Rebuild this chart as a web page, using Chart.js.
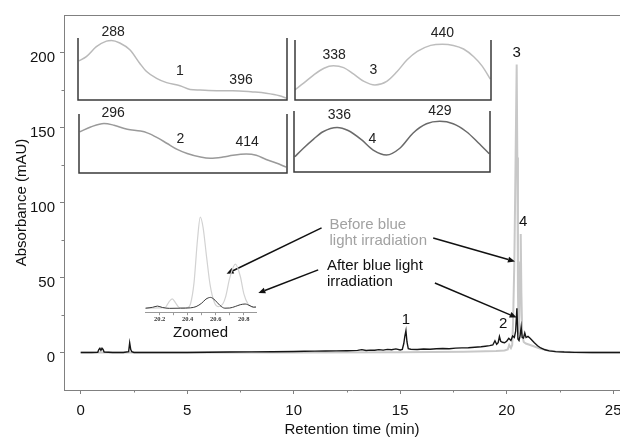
<!DOCTYPE html>
<html><head><meta charset="utf-8">
<script src="https://cdn.jsdelivr.net/npm/chart.js@4.4.0/dist/chart.umd.min.js"></script>
<style>
html,body{margin:0;padding:0;background:#fff;overflow:hidden;width:620px;height:439px;}
#wrap{position:relative;width:620px;height:439px;overflow:hidden;background:#fff;}
#wrap canvas{position:absolute;}
</style></head><body>
<div id="wrap">
<canvas id="main"></canvas>
<canvas id="inset"></canvas>
<canvas id="s1"></canvas>
<canvas id="s2"></canvas>
<canvas id="s3"></canvas>
<canvas id="s4"></canvas>
</div>
<script>
// ---------------- DATA ----------------
// Main chromatogram, after blue light irradiation (black)
const afterTime = [0,0.5,0.8,0.85,0.9,0.95,1.0,1.05,1.1,1.5,2.0,2.25,2.3,2.35,2.4,2.5,3,4,5,6,7,8,9,10,10.5,11,11.5,12,12.5,13,13.2,13.4,13.6,13.8,14,14.2,14.4,14.6,14.8,15.0,15.1,15.17,15.22,15.27,15.32,15.38,15.5,15.8,16.1,16.4,16.7,17.0,17.3,17.6,17.9,18.2,18.5,18.8,19.0,19.2,19.35,19.45,19.53,19.6,19.66,19.72,19.8,19.9,20.0,20.1,20.2,20.28,20.36,20.42,20.48,20.53,20.58,20.63,20.68,20.73,20.79,20.85,20.91,21.0,21.1,21.2,21.3,21.45,21.6,21.8,22.0,22.3,22.7,23.2,24,25,26.3];
const afterAbs  = [0,0,0.2,2,2.8,1.5,2.8,2,0.3,0,0,0.5,6.5,2,0.5,0,0,0,0,0.2,0.3,0.4,0.5,0.7,0.8,0.9,1.0,1.1,1.2,1.4,1.9,1.3,1.6,1.5,1.9,1.6,2.1,1.8,2.4,1.7,2.0,6,11,14.5,7,2.5,2.2,2.0,2.3,2.2,2.5,2.7,2.5,2.9,3.1,3.2,3.5,3.8,4.2,4.6,5.0,7.8,5.5,6.5,10.7,7.5,6.8,6.5,7.5,9.5,8,11,10,14,29.5,9,8,11,17,10,9.6,13,10,10.7,9.5,8,6.5,4.5,3,1.8,1.1,0.6,0.3,0.1,0,0,0];
// Main chromatogram, before blue light irradiation (grey)
const beforeTime = [0,5,10,15,18,19,19.5,19.9,20.05,20.12,20.2,20.26,20.3,20.36,20.42,20.47,20.5,20.53,20.56,20.6,20.63,20.66,20.69,20.73,20.8,20.9,21.0,21.2,21.4,21.6,21.9,22.3,23,24,26.3];
const beforeAbs  = [0,0,0,0.2,0.5,0.8,1.0,1.3,2,5,3,5,20,60,130,192,130,40,12,25,60,79,40,12,7,6,5.5,4.5,3.5,2.5,1.5,0.6,0.2,0,0];
const xTickValues = [0,5,10,15,20,25];
const xMinorTicks = [2.5,7.5,12.5,17.5,22.5];
const yTickValues = [0,50,100,150,200];
const yMinorTicks = [25,75,125,175];

// Zoomed inset (20.1 - 20.9 min)
const insetBeforeTime = [20.10,20.20,20.24,20.265,20.29,20.315,20.34,20.37,20.40,20.42,20.445,20.47,20.49,20.51,20.535,20.56,20.59,20.62,20.65,20.67,20.70,20.74,20.775,20.80,20.83,20.86,20.89];
const insetBeforeAbs  = [0.5,0.8,1,4,6,3.5,1,0.8,1,3,15,40,53,47,30,14,4,1.5,3,7,18,26,19,9,3,1.2,1];
const insetAfterTime = [20.10,20.15,20.185,20.22,20.27,20.35,20.42,20.46,20.50,20.53,20.563,20.595,20.63,20.665,20.70,20.74,20.775,20.81,20.845,20.87,20.89];
const insetAfterAbs  = [0.6,1.1,1.8,1.0,0.5,0.6,0.8,1.5,3.5,5.8,6.8,5.2,2.2,0.6,0.7,1.6,2.6,3.0,2.0,1.2,1.3];
const insetTicks = [20.2,20.3,20.4,20.5,20.6,20.7,20.8];
const insetLabelled = [20.2,20.4,20.6,20.8];

// UV-Vis spectra of peaks 1-4 (wavelength nm, relative absorbance)
const spec1Nm  = [251,260,272,284,290,300,312,324,332,344,356,372,384,396,416,435,459,475,491,499];
const spec1Abs = [0.63,0.70,0.86,0.95,0.96,0.92,0.81,0.59,0.46,0.35,0.28,0.23,0.17,0.16,0.15,0.15,0.13,0.11,0.07,0.03];
const spec2Nm  = [251,264,280,292,308,324,332,344,356,368,380,396,408,423,435,451,463,475,487,499];
const spec2Abs = [0.70,0.78,0.84,0.81,0.74,0.71,0.68,0.60,0.50,0.40,0.33,0.27,0.25,0.27,0.30,0.32,0.30,0.23,0.17,0.10];
const spec3Nm  = [250,261,274,287,299,312,325,338,352,367,380,393,406,423,438,452,465,478,489,499];
const spec3Abs = [0.17,0.28,0.42,0.53,0.57,0.54,0.43,0.31,0.25,0.31,0.47,0.67,0.81,0.91,0.93,0.91,0.85,0.72,0.56,0.35];
const spec4Nm  = [251,262,275,287,305,319,336,351,368,385,402,419,436,453,470,485,499];
const spec4Abs = [0.25,0.39,0.54,0.66,0.73,0.68,0.53,0.36,0.28,0.39,0.64,0.79,0.83,0.79,0.66,0.48,0.30];

// ---------------- ANNOTATIONS (positions in data units) ----------------
const mainNotes = {
  texts: [
    {text:'Before blue', t:11.68, a:82.5, color:'#a2a2a2'},
    {text:'light irradiation', t:11.68, a:71.8, color:'#a2a2a2'},
    {text:'After blue light', t:11.56, a:54.8, color:'#111111'},
    {text:'irradiation', t:11.56, a:44.5, color:'#111111'}
  ],
  peaks: [
    {text:'1', t:15.27, a:21.8},
    {text:'2', t:19.84, a:19.1},
    {text:'3', t:20.47, a:199.5},
    {text:'4', t:20.78, a:86.9}
  ],
  arrows: [
    {from:[11.31,83.1], to:[6.85,52.5]},
    {from:[11.15,55.1], to:[8.34,39.6]},
    {from:[16.55,76.3], to:[20.39,60.7]},
    {from:[16.63,46.3], to:[20.47,23.3]}
  ]
};
const specLabels = {
  s1: [{text:'288', nm:292, v:1.10},{text:'1', nm:372, v:0.47},{text:'396', nm:445, v:0.32}],
  s2: [{text:'296', nm:291, v:1.02},{text:'2', nm:372, v:0.57},{text:'414', nm:452, v:0.53}],
  s3: [{text:'338', nm:300, v:0.75},{text:'3', nm:350, v:0.50},{text:'440', nm:438, v:1.11}],
  s4: [{text:'336', nm:308, v:0.94},{text:'4', nm:350, v:0.54},{text:'429', nm:436, v:1.00}]
};

// ---------------- LAYOUT ----------------
const FONT = "'Liberation Sans', Arial, sans-serif";
Chart.defaults.font.family = FONT;
Chart.defaults.color = '#111';
function setupCanvas(id, left, top, w, h){
  const c = document.getElementById(id);
  c.width = w; c.height = h;
  c.style.left = left + 'px'; c.style.top = top + 'px';
  c.style.width = w + 'px'; c.style.height = h + 'px';
  return c;
}
const pts = (xs, ys) => xs.map((x, i) => ({x: x, y: ys[i]}));
const base = {responsive:false, animation:false, events:[], plugins:{legend:{display:false}, tooltip:{enabled:false}}};

// ---------------- MAIN CHART ----------------
function arrow(ctx, x1, y1, x2, y2){
  const ang = Math.atan2(y2 - y1, x2 - x1), L = 7, W = 3;
  const bx = x2 - L*Math.cos(ang), by = y2 - L*Math.sin(ang);
  ctx.beginPath(); ctx.moveTo(x1, y1); ctx.lineTo(bx, by); ctx.stroke();
  ctx.beginPath(); ctx.moveTo(x2, y2);
  ctx.lineTo(bx + W*Math.sin(ang), by - W*Math.cos(ang));
  ctx.lineTo(bx - W*Math.sin(ang), by + W*Math.cos(ang));
  ctx.closePath(); ctx.fill();
}
const mainDecor = {
  id:'mainDecor',
  afterDraw(chart){
    const {ctx, chartArea:a, scales:{x, y}} = chart;
    ctx.save();
    ctx.strokeStyle = '#808080'; ctx.lineWidth = 1;
    ctx.beginPath(); ctx.moveTo(a.left, a.top + 0.5); ctx.lineTo(a.right, a.top + 0.5); ctx.stroke();
    ctx.beginPath();
    xMinorTicks.forEach(v => { const px = Math.round(x.getPixelForValue(v)) + 0.5; ctx.moveTo(px, a.bottom); ctx.lineTo(px, a.bottom + 2.5); });
    yMinorTicks.forEach(v => { const py = Math.round(y.getPixelForValue(v)) + 0.5; ctx.moveTo(a.left - 2.5, py); ctx.lineTo(a.left, py); });
    ctx.stroke();
    ctx.font = '15px ' + FONT;
    ctx.textAlign = 'left'; ctx.textBaseline = 'alphabetic';
    mainNotes.texts.forEach(n => { ctx.fillStyle = n.color; ctx.fillText(n.text, x.getPixelForValue(n.t), y.getPixelForValue(n.a)); });
    ctx.fillStyle = '#111'; ctx.textAlign = 'center'; ctx.textBaseline = 'middle';
    mainNotes.peaks.forEach(n => ctx.fillText(n.text, x.getPixelForValue(n.t), y.getPixelForValue(n.a)));
    ctx.strokeStyle = '#111'; ctx.fillStyle = '#111'; ctx.lineWidth = 1.5;
    mainNotes.arrows.forEach(ar => arrow(ctx, x.getPixelForValue(ar.from[0]), y.getPixelForValue(ar.from[1]), x.getPixelForValue(ar.to[0]), y.getPixelForValue(ar.to[1])));
    ctx.restore();
  }
};
new Chart(setupCanvas('main', 0, 0, 650, 439), {
  type:'line',
  data:{datasets:[
    {label:'After blue light irradiation', data:pts(afterTime, afterAbs), borderColor:'#161616', borderWidth:1.4, pointRadius:0, tension:0},
    {label:'Before blue light irradiation', data:pts(beforeTime, beforeAbs), borderColor:'#c8c8c8', borderWidth:2, pointRadius:0, tension:0}
  ]},
  options:Object.assign({}, base, {
    layout:{padding:{left:0, top:15, right:10, bottom:0}},
    scales:{
      x:{type:'linear', min:-0.784, max:26.26,
        afterBuildTicks:s => { s.ticks = xTickValues.map(v => ({value:v})); },
        afterFit:s => { s.height = 49; },
        grid:{drawOnChartArea:false, drawTicks:true, tickLength:4, color:'#808080', lineWidth:1},
        border:{display:true, color:'#808080', width:1},
        ticks:{font:{size:15}, color:'#111', padding:8, maxRotation:0, autoSkip:false},
        title:{display:true, text:'Retention time (min)', font:{size:15}, color:'#111', padding:{top:0, bottom:0}}
      },
      y:{type:'linear', min:-25, max:225,
        afterBuildTicks:s => { s.ticks = yTickValues.map(v => ({value:v})); },
        afterFit:s => { s.width = 64; },
        grid:{drawOnChartArea:false, drawTicks:true, tickLength:4, color:'#808080', lineWidth:1},
        border:{display:true, color:'#808080', width:1},
        ticks:{font:{size:15}, color:'#111', padding:5, labelOffset:5},
        title:{display:true, text:'Absorbance (mAU)', font:{size:15}, color:'#111', padding:{top:13, bottom:0}}
      }
    }
  }),
  plugins:[mainDecor]
});

// ---------------- ZOOMED INSET ----------------
new Chart(setupCanvas('inset', 130, 180, 140, 162), {
  type:'line',
  data:{datasets:[
    {label:'After (zoomed)', data:pts(insetAfterTime, insetAfterAbs), borderColor:'#3a3a3a', borderWidth:1, pointRadius:0, cubicInterpolationMode:'monotone'},
    {label:'Before (zoomed)', data:pts(insetBeforeTime, insetBeforeAbs), borderColor:'#d2d2d2', borderWidth:1.2, pointRadius:0, cubicInterpolationMode:'monotone'}
  ]},
  options:Object.assign({}, base, {
    layout:{padding:{left:15, top:25, right:14, bottom:0}},
    scales:{
      x:{type:'linear', min:20.096, max:20.887,
        afterBuildTicks:s => { s.ticks = insetTicks.map(v => ({value:v})); },
        afterFit:s => { s.height = 29.3; },
        grid:{drawOnChartArea:false, drawTicks:true, tickLength:2.5, color:'#999', lineWidth:1},
        border:{display:true, color:'#999', width:1},
        ticks:{font:{family:"'Liberation Serif', 'Times New Roman', serif", size:6.5, weight:'bold'}, color:'#333', padding:0, maxRotation:0, autoSkip:false,
          callback:v => insetLabelled.some(l => Math.abs(l - v) < 1e-6) ? v.toFixed(1) : ''},
        title:{display:true, text:'Zoomed', font:{size:15}, color:'#111', padding:{top:0, bottom:0}}
      },
      y:{type:'linear', display:false, min:-2, max:60}
    }
  })
});

// ---------------- UV-VIS SPECTRA BOXES ----------------
const boxFrame = {
  id:'boxFrame',
  afterDatasetsDraw(chart, args, opts){
    const {ctx, chartArea:a, scales:{x, y}} = chart;
    ctx.save();
    ctx.strokeStyle = '#3a3a3a'; ctx.lineWidth = 1.5;
    ctx.beginPath(); ctx.moveTo(a.left, a.top); ctx.lineTo(a.left, a.bottom); ctx.lineTo(a.right, a.bottom); ctx.lineTo(a.right, a.top); ctx.stroke();
    ctx.fillStyle = '#222'; ctx.font = '14px ' + FONT; ctx.textAlign = 'center'; ctx.textBaseline = 'middle';
    (opts.labels || []).forEach(l => ctx.fillText(l.text, x.getPixelForValue(l.nm), y.getPixelForValue(l.v)));
    ctx.restore();
  }
};
function spectrum(id, box, nm, abs, color, labels){
  const pl = 10, pr = 10, pt = 22, pb = 5;
  const w = box.right - box.left + pl + pr, h = box.bottom - box.top + pt + pb;
  new Chart(setupCanvas(id, box.left - pl, box.top - pt, w, h), {
    type:'line',
    data:{datasets:[{label:'Spectrum ' + id, data:pts(nm, abs), borderColor:color, borderWidth:1.5, pointRadius:0, cubicInterpolationMode:'monotone'}]},
    options:Object.assign({}, base, {
      layout:{padding:{left:pl, right:pr, top:pt, bottom:pb}},
      scales:{x:{type:'linear', display:false, min:250, max:500}, y:{type:'linear', display:false, min:0, max:1}},
      plugins:{legend:{display:false}, tooltip:{enabled:false}, boxFrame:{labels:labels}}
    }),
    plugins:[boxFrame]
  });
}
spectrum('s1', {left:78, top:38, right:287, bottom:100}, spec1Nm, spec1Abs, '#b9b9b9', specLabels.s1);
spectrum('s2', {left:79, top:114, right:287, bottom:173}, spec2Nm, spec2Abs, '#9a9a9a', specLabels.s2);
spectrum('s3', {left:295, top:40, right:491, bottom:100}, spec3Nm, spec3Abs, '#bdbdbd', specLabels.s3);
spectrum('s4', {left:294, top:111, right:490, bottom:172}, spec4Nm, spec4Abs, '#6a6a6a', specLabels.s4);
</script>
</body></html>
